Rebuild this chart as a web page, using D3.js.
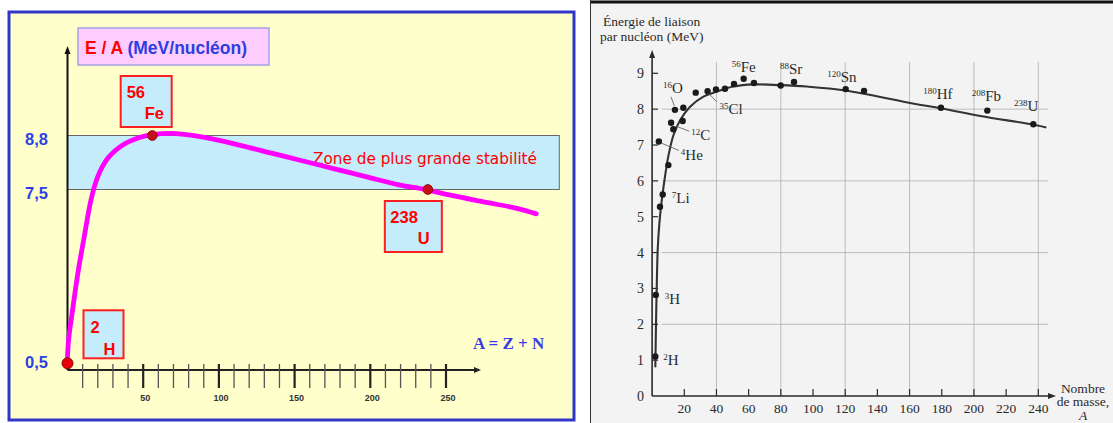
<!DOCTYPE html>
<html><head><meta charset="utf-8">
<script src="https://cdn.jsdelivr.net/npm/d3@7"></script>
<style>body{margin:0;background:#fff}svg{display:block}</style>
</head><body><svg id="c" width="1113" height="423"></svg>
<script>
// ===== Left panel (schematic) data =====
const leftCurveA = [0,0.7,2.6,4.9,7.6,10.9,15.5,20,26.6,36.5,47.5,56.3,69.5,91.5,113.5,135.4,153,175,197,219,236,252,274,296,309.6];
const leftCurveE = [0.75,1.44,2.32,3.33,4.41,5.54,7.08,7.81,8.25,8.57,8.75,8.82,8.85,8.75,8.57,8.37,8.21,8.01,7.81,7.61,7.5,7.28,7.01,6.75,6.52];
const leftNucMass = ["2","56","238"];
const leftNucSym = ["H","Fe","U"];
const leftNucA = [0,56,238];
const leftNucE = [0.5,8.8,7.5];
const leftYTicks = [0.5,7.5,8.8];
const leftYLabels = ["0,5","7,5","8,8"];
const leftXTicks = d3.range(10,251,10);
const leftXLabels = [50,100,150,200,250];
const bandLow = 7.5, bandHigh = 8.8;

// ===== Right panel data =====
const rightCurveA = [2,2.5,3,3.5,4.5,5.6,7.4,10,13.3,17.5,23.6,31.9,40.2,50.5,63,79.5,96,120,162,180,204,238,245];
const rightCurveE = [0.8,2.2,3.3,4.1,4.8,5.3,5.93,6.67,7.28,7.7,8.07,8.35,8.49,8.63,8.69,8.67,8.63,8.52,8.16,8.02,7.81,7.56,7.49];
const rightDotA = [2,2.3,4.2,4.9,6.6,10.1,11.8,13.2,14.2,19.0,19.4,27.1,34.5,39.7,45.3,50.9,56.9,63.3,79.9,88.2,120.3,131.7,179.5,208.3,236.9];
const rightDotE = [1.1,2.82,7.1,5.28,5.62,6.44,7.62,7.44,7.98,7.67,8.04,8.46,8.5,8.55,8.57,8.7,8.85,8.73,8.66,8.76,8.56,8.51,8.04,7.96,7.58];
const rightLabMass = ["2","3","7","4","12","16","35","56","88","120","180","208","238"];
const rightLabSym  = ["H","H","Li","He","C","O","Cl","Fe","Sr","Sn","Hf","Fb","U"];
const rightLabA    = [2,2.3,6.6,4.2,13.2,14.2,34.5,56.9,88.2,120.3,179.5,208.3,236.9];
const rightLabE    = [1.1,2.82,5.62,7.1,7.44,7.98,8.5,8.85,8.76,8.56,8.04,7.96,7.58];
const rightYTicks = d3.range(0,10);
const rightXTicks = d3.range(20,241,20);
const rightGridX = [40,80,120,160,200,240];
const rightGridY = [2,4,6,8];

const svg = d3.select("#c");

// ---------------- LEFT PANEL ----------------
const L = svg.append("g");
const xL = d3.scaleLinear().domain([0,250]).range([67.5,446]);
const yL = d3.scaleLinear().domain([0.5,7.5,8.8]).range([363.3,189.5,135.5]);
const axisY = 370;

L.append("rect").attr("x",9).attr("y",12).attr("width",565).attr("height",408)
 .attr("fill","#FFFFCC").attr("stroke","#3236C8").attr("stroke-width",3);

// title box
L.append("rect").attr("x",78).attr("y",28).attr("width",191).attr("height",37)
 .attr("fill","#FFCCFF").attr("stroke","#A3A3E8").attr("stroke-width",1.5);
const tt = L.append("text").attr("x",85).attr("y",54)
 .attr("font-family","Liberation Sans, Arial, sans-serif").attr("font-weight","bold").attr("font-size",17.5);
tt.append("tspan").attr("fill","#FF0000").text("E / A ");
tt.append("tspan").attr("fill","#2C3FE0").text("(MeV/nucléon)");

// stability band
L.append("rect").attr("x",xL(0)).attr("y",yL(bandHigh))
 .attr("width",559.3-xL(0)).attr("height",yL(bandLow)-yL(bandHigh))
 .attr("fill","#C4ECFB").attr("stroke","#666").attr("stroke-width",1);
L.append("text").attr("x",313).attr("y",163.5).attr("fill","#FF0000")
 .attr("font-family","DejaVu Sans, sans-serif").attr("font-size",15)
 .attr("textLength",224).attr("lengthAdjust","spacingAndGlyphs")
 .text("Zone de plus grande stabilité");

// axes
L.append("line").attr("x1",xL(0)).attr("x2",xL(0)).attr("y1",axisY).attr("y2",51)
 .attr("stroke","#111").attr("stroke-width",2);
L.append("path").attr("d",`M${xL(0)},46 l-3,8 l6,0 z`).attr("fill","#111");
L.append("line").attr("x1",xL(0)).attr("x2",476).attr("y1",axisY).attr("y2",axisY)
 .attr("stroke","#222").attr("stroke-width",2);
L.append("path").attr("d",`M481,${axisY} l-7,-3 l0,6 z`).attr("fill","#222");

L.selectAll("line.xt").data(leftXTicks).join("line").attr("class","xt")
 .attr("x1",d=>xL(d)).attr("x2",d=>xL(d)).attr("y1",364).attr("y2",388)
 .attr("stroke",d=>d%50===0?"#222":"#555").attr("stroke-width",d=>d%50===0?2.2:1.3);
L.selectAll("text.xl").data(leftXLabels).join("text").attr("class","xl")
 .attr("x",d=>xL(d)+2).attr("y",401).attr("text-anchor","middle")
 .attr("font-family","Liberation Sans, Arial, sans-serif").attr("font-weight","bold")
 .attr("font-size",9).attr("fill","#333").text(d=>d);

L.selectAll("text.yl").data(leftYTicks).join("text").attr("class","yl")
 .attr("x",48).attr("y",(d,i)=>yL(d)+(i===0?5:9)).attr("text-anchor","end")
 .attr("font-family","Liberation Sans, Arial, sans-serif").attr("font-weight","bold")
 .attr("font-size",16.5).attr("fill","#2C3FE0").text((d,i)=>leftYLabels[i]);

L.append("text").attr("x",473).attr("y",349).attr("fill","#3B3BE5")
 .attr("font-family","Liberation Serif, Times New Roman, serif").attr("font-weight","bold")
 .attr("font-size",17).text("A = Z + N");

// curve
const lineL = d3.line().x(d=>xL(d[0])).y(d=>yL(d[1])).curve(d3.curveCatmullRom.alpha(0.5));
L.append("path").attr("d",lineL(leftCurveA.map((a,i)=>[a,leftCurveE[i]])))
 .attr("fill","none").attr("stroke","#FF00FF").attr("stroke-width",4.8).attr("stroke-linecap","round");

// nuclide boxes
const boxLayout = [ {dx:16,dy:-53,w:40,h:48,mx:7,my:23,sx:20,sy:45},
                    {dx:-31.6,dy:-59.5,w:51,h:51,mx:6,my:22,sx:24,sy:43},
                    {dx:-43,dy:11.5,w:57,h:51,mx:5.5,my:22,sx:33,sy:43} ];
leftNucA.forEach((a,i)=>{
  const b = boxLayout[i], x0 = xL(a)+b.dx, y0 = yL(leftNucE[i])+b.dy;
  L.append("rect").attr("x",x0).attr("y",y0).attr("width",b.w).attr("height",b.h)
   .attr("fill","#C4ECFB").attr("stroke","#FF1E1E").attr("stroke-width",2);
  L.append("text").attr("x",x0+b.mx).attr("y",y0+b.my).attr("fill","#FF0000")
   .attr("font-family","Liberation Sans, Arial, sans-serif").attr("font-weight","bold")
   .attr("font-size",16.5).text(leftNucMass[i]);
  L.append("text").attr("x",x0+b.sx).attr("y",y0+b.sy).attr("fill","#FF0000")
   .attr("font-family","Liberation Sans, Arial, sans-serif").attr("font-weight","bold")
   .attr("font-size",16.5).text(leftNucSym[i]);
});
// dots
L.selectAll("circle").data(leftNucA).join("circle")
 .attr("cx",d=>xL(d)).attr("cy",(d,i)=>yL(leftNucE[i]))
 .attr("r",(d,i)=>i===0?5.5:4.8)
 .attr("fill",(d,i)=>i===0?"#E8000B":"#C8101A").attr("stroke","#8A0000").attr("stroke-width",1);

// ---------------- RIGHT PANEL ----------------
const R = svg.append("g");
const xR = d3.scaleLinear().domain([0,240]).range([652.1,1038.3]);
const yR = d3.scaleLinear().domain([0,9]).range([396,73.3]);
const serif = "Liberation Serif, Times New Roman, serif";
const ink = "#2a2a2a";

R.append("rect").attr("x",590).attr("y",0).attr("width",523).attr("height",423).attr("fill","#F3F3F3");
R.append("line").attr("x1",590).attr("x2",1113).attr("y1",2).attr("y2",2).attr("stroke","#111").attr("stroke-width",3);
R.append("line").attr("x1",590.5).attr("x2",590.5).attr("y1",0).attr("y2",423).attr("stroke","#333").attr("stroke-width",1);

R.append("text").attr("x",603).attr("y",26).attr("font-family",serif).attr("font-size",13.5).attr("fill",ink).text("Énergie de liaison");
R.append("text").attr("x",600).attr("y",41).attr("font-family",serif).attr("font-size",13.5).attr("fill",ink).text("par nucléon (MeV)");

// grid
R.selectAll("line.gx").data(rightGridX).join("line").attr("class","gx")
 .attr("x1",d=>xR(d)).attr("x2",d=>xR(d)).attr("y1",62).attr("y2",yR(0))
 .attr("stroke","#B5B5B5").attr("stroke-width",0.9);
R.selectAll("line.gy").data(rightGridY).join("line").attr("class","gy")
 .attr("x1",661.7).attr("x2",1048).attr("y1",d=>yR(d)).attr("y2",d=>yR(d))
 .attr("stroke","#B5B5B5").attr("stroke-width",0.9);

// axes
R.append("line").attr("x1",xR(0)).attr("x2",xR(0)).attr("y1",yR(0)).attr("y2",56).attr("stroke",ink).attr("stroke-width",1.6);
R.append("path").attr("d",`M${xR(0)},50 l-3,8 l6,0 z`).attr("fill",ink);
R.append("line").attr("x1",xR(0)).attr("x2",1050).attr("y1",yR(0)).attr("y2",yR(0)).attr("stroke",ink).attr("stroke-width",1.6);
R.append("path").attr("d",`M1056,${yR(0)} l-8,-3 l0,6 z`).attr("fill",ink);

R.selectAll("line.yt").data(rightYTicks.slice(1)).join("line").attr("class","yt")
 .attr("x1",xR(0)).attr("x2",xR(0)+6).attr("y1",d=>yR(d)).attr("y2",d=>yR(d)).attr("stroke",ink).attr("stroke-width",1.2);
R.selectAll("line.xt").data(rightXTicks).join("line").attr("class","xt")
 .attr("x1",d=>xR(d)).attr("x2",d=>xR(d)).attr("y1",yR(0)).attr("y2",yR(0)-7).attr("stroke",ink).attr("stroke-width",1.2);

R.selectAll("text.yl").data(rightYTicks).join("text").attr("class","yl")
 .attr("x",644).attr("y",d=>yR(d)+5).attr("text-anchor","end")
 .attr("font-family",serif).attr("font-size",14).attr("fill",ink).text(d=>d);
R.selectAll("text.xl").data(rightXTicks).join("text").attr("class","xl")
 .attr("x",d=>xR(d)).attr("y",413).attr("text-anchor","middle")
 .attr("font-family",serif).attr("font-size",13.5).attr("fill",ink).text(d=>d);

const xt = R.append("g").attr("font-family",serif).attr("font-size",13.5).attr("fill",ink).attr("text-anchor","middle");
xt.append("text").attr("x",1083).attr("y",393).text("Nombre");
xt.append("text").attr("x",1083).attr("y",406).text("de masse,");
xt.append("text").attr("x",1083).attr("y",420).attr("font-style","italic").text("A");

// curve
const lineR = d3.line().x(d=>xR(d[0])).y(d=>yR(d[1])).curve(d3.curveCatmullRom.alpha(0.5));
R.append("path").attr("d",lineR(rightCurveA.map((a,i)=>[a,rightCurveE[i]])))
 .attr("fill","none").attr("stroke","#333").attr("stroke-width",2.1);

// dots
R.selectAll("circle").data(rightDotA).join("circle")
 .attr("cx",d=>xR(d)).attr("cy",(d,i)=>yR(rightDotE[i])).attr("r",3.2).attr("fill","#1a1a1a");

// labels (offsets from the labelled point, and optional leader line)
const labLayout = [
 {dx:8,dy:8},{dx:9,dy:9},{dx:9,dy:9},
 {dx:22,dy:19, l:[2,1.5,20,9]},
 {dx:18,dy:11, l:[3,-3,16,2]},
 {dx:-12,dy:-17, l:[-4,-13,-0.5,-4]},
 {dx:12,dy:23, l:[1,2,9,10.5]},
 {dx:-12,dy:-7},{dx:-14,dy:-8},{dx:-18.5,dy:-7.5},
 {dx:-17.7,dy:-8.5},{dx:-15.6,dy:-9.5},{dx:-19.3,dy:-13}
];
rightLabA.forEach((a,i)=>{
  const px = xR(a), py = yR(rightLabE[i]), o = labLayout[i];
  if(o.l) R.append("line").attr("x1",px+o.l[0]).attr("y1",py+o.l[1]).attr("x2",px+o.l[2]).attr("y2",py+o.l[3])
            .attr("stroke","#555").attr("stroke-width",0.8);
  const t = R.append("text").attr("x",px+o.dx).attr("y",py+o.dy).attr("font-family",serif).attr("fill",ink);
  t.append("tspan").attr("font-size",9).attr("dy",-5).text(rightLabMass[i]);
  t.append("tspan").attr("font-size",15).attr("dy",5).text(rightLabSym[i]);
});
</script></body></html>
